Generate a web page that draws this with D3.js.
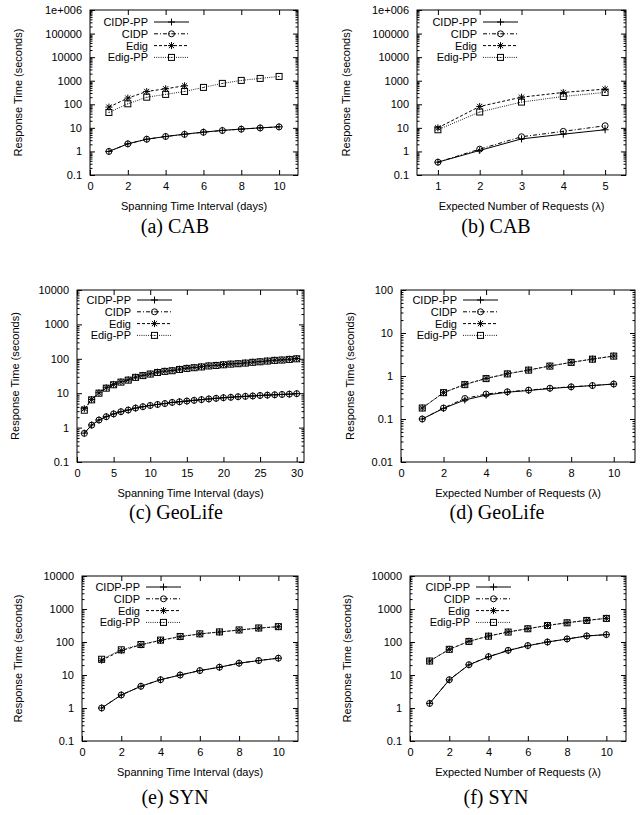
<!DOCTYPE html>
<html>
<head>
<meta charset="utf-8">
<script src="https://cdn.jsdelivr.net/npm/d3@7"></script>
<style>
  body { margin: 0; background: #fff; }
  svg { display: block; }
  .tick text, .lbl { font-family: "Liberation Sans", Arial, Helvetica, sans-serif; font-size: 11px; fill: #000; }
  .cap { font-family: "Liberation Serif", "DejaVu Serif", serif; font-size: 20px; fill: #000; }
</style>
</head>
<body>
<svg id="fig" width="644" height="815"></svg>
<script>
// ---- series and labels ----
const seriesNames = ["CIDP-PP", "CIDP", "Edig", "Edig-PP"];

// CAB, response time vs. spanning time interval (days)
const cabDaysX = [1, 2, 3, 4, 5, 6, 7, 8, 9, 10];
const cabDaysCidpPP = [1.0, 2.1, 3.3, 4.3, 5.4, 6.6, 7.8, 8.9, 10.0, 11.1];
const cabDaysCidp   = [1.0, 2.1, 3.3, 4.3, 5.3, 6.5, 7.7, 8.8, 9.9, 11.0];
const cabDaysEdigX  = [1, 2, 3, 4, 5];
const cabDaysEdig   = [76, 183, 350, 455, 610];
const cabDaysEdigPP = [45, 105, 200, 263, 350, 520, 770, 1030, 1250, 1520];

// CAB, response time vs. expected number of requests
const cabReqX = [1, 2, 3, 4, 5];
const cabReqCidpPP = [0.35, 1.1, 3.4, 5.4, 8.3];
const cabReqCidp   = [0.35, 1.25, 4.2, 7.1, 12.3];
const cabReqEdig   = [10, 81, 200, 318, 440];
const cabReqEdigPP = [8.3, 47, 124, 215, 318];

// GeoLife, response time vs. spanning time interval (days)
const geoDaysX = d3.range(1, 31);
const geoDaysCidpPP = [0.69, 1.19, 1.67, 2.08, 2.5, 2.9, 3.25, 3.7, 4.06, 4.4, 4.7, 5.0, 5.4, 5.65, 5.9,
                       6.2, 6.5, 6.8, 7.1, 7.4, 7.6, 7.9, 8.1, 8.3, 8.6, 8.8, 9.0, 9.2, 9.4, 9.7];
const geoDaysCidp   = [0.68, 1.18, 1.66, 2.07, 2.5, 2.9, 3.24, 3.7, 4.05, 4.4, 4.7, 5.0, 5.4, 5.64, 5.9,
                       6.2, 6.5, 6.8, 7.1, 7.4, 7.6, 7.9, 8.1, 8.3, 8.6, 8.8, 9.0, 9.2, 9.4, 9.7];
const geoDaysEdig   = [3.55, 6.6, 10.3, 14.4, 18, 21.5, 24.5, 29.3, 33, 36.6, 41, 43.8, 45.8, 50, 53.5,
                       56, 59, 63, 65, 68, 71, 73, 76, 80, 83, 87, 91, 93, 97, 102];
const geoDaysEdigPP = [3.2, 6.4, 10, 14, 17.6, 21, 24, 28.8, 32.5, 36, 40, 43, 45, 49, 52.5,
                       55, 58, 62, 64, 67, 70, 72, 75, 79, 82, 86, 90, 92, 96, 100];

// GeoLife, response time vs. expected number of requests
const geoReqX = [1, 2, 3, 4, 5, 6, 7, 8, 9, 10];
const geoReqCidpPP = [0.1, 0.177, 0.277, 0.36, 0.42, 0.46, 0.51, 0.555, 0.6, 0.65];
const geoReqCidp   = [0.1, 0.18, 0.30, 0.38, 0.43, 0.47, 0.52, 0.56, 0.6, 0.65];
const geoReqEdig   = [0.18, 0.41, 0.64, 0.88, 1.13, 1.38, 1.71, 2.08, 2.48, 2.92];
const geoReqEdigPP = [0.18, 0.41, 0.63, 0.87, 1.12, 1.37, 1.70, 2.07, 2.46, 2.9];

// SYN, response time vs. spanning time interval (days)
const synDaysX = [1, 2, 3, 4, 5, 6, 7, 8, 9, 10];
const synDaysCidpPP = [1.0, 2.48, 4.55, 7.2, 10, 13.6, 17.2, 22.8, 27.4, 32.3];
const synDaysCidp   = [1.0, 2.48, 4.55, 7.2, 10, 13.6, 17.2, 22.8, 27.4, 32.3];
const synDaysEdig   = [28, 55, 82, 112, 145, 175, 200, 230, 263, 290];
const synDaysEdigPP = [30, 58, 84, 114, 147, 177, 202, 232, 266, 292];

// SYN, response time vs. expected number of requests
const synReqX = [1, 2, 3, 4, 5, 6, 7, 8, 9, 10];
const synReqCidpPP = [1.38, 7.1, 20.3, 35.6, 55, 77, 100, 123, 152, 167];
const synReqCidp   = [1.38, 7.2, 20.5, 36, 56, 78, 100, 124, 153, 168];
const synReqEdig   = [26.5, 60, 105, 152, 202, 254, 318, 385, 453, 522];
const synReqEdigPP = [26.5, 60, 104, 150, 200, 252, 315, 382, 450, 518];

// tick values
const yTicksCab = [0.1, 1, 10, 100, 1000, 10000, 100000, 1000000];
const yTicksFour = [0.1, 1, 10, 100, 1000, 10000];
const yTicksGeoReq = [0.01, 0.1, 1, 10, 100];
const xTicksDays10 = [0, 2, 4, 6, 8, 10];
const xTicksDays30 = [0, 5, 10, 15, 20, 25, 30];
const xTicksReq5 = [1, 2, 3, 4, 5];
const xTicksReq10 = [0, 2, 4, 6, 8, 10];

const xTitleDays = "Spanning Time Interval (days)";
const xTitleReq = "Expected Number of Requests (\u03bb)";
const yTitle = "Response Time (seconds)";
const captions = ["(a) CAB", "(b) CAB", "(c) GeoLife", "(d) GeoLife", "(e) SYN", "(f) SYN"];

// ---- panel layout ----
const panels = [
  { box: [90, 298, 10, 175],  xd: [0, 11],    yd: [1e-1, 1e6], xt: xTicksDays10, yt: yTicksCab,
    xTitle: xTitleDays, yTitleX: 18, leg: [58, 12], cap: [175, 233],
    series: [[cabDaysX, cabDaysCidpPP], [cabDaysX, cabDaysCidp], [cabDaysEdigX, cabDaysEdig], [cabDaysX, cabDaysEdigPP]] },
  { box: [417, 626, 10, 175], xd: [0.5, 5.5], yd: [1e-1, 1e6], xt: xTicksReq5, yt: yTicksCab,
    xTitle: xTitleReq, yTitleX: 346, leg: [60, 12], cap: [496, 233],
    series: [[cabReqX, cabReqCidpPP], [cabReqX, cabReqCidp], [cabReqX, cabReqEdig], [cabReqX, cabReqEdigPP]] },
  { box: [77, 304, 290, 462], xd: [0, 31],    yd: [1e-1, 1e4], xt: xTicksDays30, yt: yTicksFour,
    xTitle: xTitleDays, yTitleX: 15, leg: [54, 10], cap: [176, 519],
    series: [[geoDaysX, geoDaysCidpPP], [geoDaysX, geoDaysCidp], [geoDaysX, geoDaysEdig], [geoDaysX, geoDaysEdigPP]] },
  { box: [401, 635, 290, 462], xd: [0, 11],   yd: [1e-2, 1e2], xt: xTicksReq10, yt: yTicksGeoReq,
    xTitle: xTitleReq, yTitleX: 350, leg: [56, 10], cap: [497, 519],
    series: [[geoReqX, geoReqCidpPP], [geoReqX, geoReqCidp], [geoReqX, geoReqEdig], [geoReqX, geoReqEdigPP]] },
  { box: [82, 298, 576, 741], xd: [0, 11],    yd: [1e-1, 1e4], xt: xTicksDays10, yt: yTicksFour,
    xTitle: xTitleDays, yTitleX: 18, leg: [58, 11], cap: [175, 804],
    series: [[synDaysX, synDaysCidpPP], [synDaysX, synDaysCidp], [synDaysX, synDaysEdig], [synDaysX, synDaysEdigPP]] },
  { box: [410, 626, 576, 741], xd: [0, 11],   yd: [1e-1, 1e4], xt: xTicksReq10, yt: yTicksFour,
    xTitle: xTitleReq, yTitleX: 347, leg: [60, 11], cap: [496, 804],
    series: [[synReqX, synReqCidpPP], [synReqX, synReqCidp], [synReqX, synReqEdig], [synReqX, synReqEdigPP]] }
];

// line style and point type for each series
const styles = [
  { dash: null,        stroke: "#000", marker: "plus" },
  { dash: "4,2,1,2",   stroke: "#000", marker: "circle" },
  { dash: "3,2",       stroke: "#000", marker: "star" },
  { dash: "1,1.2",     stroke: "#222", marker: "square" }
];

const svg = d3.select("#fig");

function fmtY(v) {
  if (v >= 1e6) return "1e+006";
  return String(+v.toPrecision(3));
}

function drawMarker(g, type, cx, cy) {
  const m = g.append("g").attr("transform", `translate(${cx},${cy})`)
    .attr("fill", "none").attr("stroke", "#000").attr("stroke-width", 1);
  if (type === "plus") {
    m.append("path").attr("d", "M-3.5,0H3.5M0,-3.5V3.5");
  } else if (type === "circle") {
    m.append("circle").attr("r", 3);
    m.append("circle").attr("r", 0.5).attr("fill", "#000").attr("stroke", "none");
  } else if (type === "star") {
    m.append("path").attr("d", "M-3.5,0H3.5M0,-3.5V3.5M-2.6,-2.6L2.6,2.6M-2.6,2.6L2.6,-2.6");
  } else if (type === "square") {
    m.append("rect").attr("x", -3).attr("y", -3).attr("width", 6).attr("height", 6);
    m.append("circle").attr("r", 0.5).attr("fill", "#000").attr("stroke", "none");
  }
}

function minorTicks(domain) {
  const out = [];
  const lo = Math.round(Math.log10(domain[0])), hi = Math.round(Math.log10(domain[1]));
  for (let e = lo; e < hi; e++) {
    for (let k = 2; k <= 9; k++) out.push(k * Math.pow(10, e));
  }
  return out;
}

function drawPanel(p, idx) {
  const [L, R, T, B] = p.box;
  const x = d3.scaleLinear().domain(p.xd).range([L, R]);
  const y = d3.scaleLog().domain(p.yd).range([B, T]);
  const g = svg.append("g");

  const major = 5, minor = 2.5;
  const styleAxis = sel => {
    sel.select(".domain").remove();
    sel.selectAll(".tick line").attr("stroke", "#000").attr("stroke-width", 1);
    sel.attr("font-family", null).attr("font-size", null);
  };

  // left axis with labels, ticks pointing inward
  g.append("g").attr("transform", `translate(${L},0)`)
    .call(d3.axisLeft(y).tickValues(p.yt).tickFormat(fmtY).tickSize(-major).tickPadding(8))
    .call(styleAxis);
  g.append("g").attr("transform", `translate(${L},0)`)
    .call(d3.axisLeft(y).tickValues(minorTicks(p.yd)).tickFormat("").tickSize(-minor))
    .call(styleAxis);
  // mirrored right axis
  g.append("g").attr("transform", `translate(${R},0)`)
    .call(d3.axisRight(y).tickValues(p.yt).tickFormat("").tickSize(-major))
    .call(styleAxis);
  g.append("g").attr("transform", `translate(${R},0)`)
    .call(d3.axisRight(y).tickValues(minorTicks(p.yd)).tickFormat("").tickSize(-minor))
    .call(styleAxis);
  // bottom axis with labels, mirrored top axis
  g.append("g").attr("transform", `translate(0,${B})`)
    .call(d3.axisBottom(x).tickValues(p.xt).tickFormat(d3.format("d")).tickSize(-major).tickPadding(7))
    .call(styleAxis);
  g.append("g").attr("transform", `translate(0,${T})`)
    .call(d3.axisTop(x).tickValues(p.xt).tickFormat("").tickSize(-major))
    .call(styleAxis);

  // frame
  g.append("rect").attr("x", L).attr("y", T).attr("width", R - L).attr("height", B - T)
    .attr("fill", "none").attr("stroke", "#000").attr("stroke-width", 1);

  // axis titles
  g.append("text").attr("class", "lbl").attr("text-anchor", "middle")
    .attr("x", (L + R) / 2).attr("y", B + 35).text(p.xTitle);
  g.append("text").attr("class", "lbl").attr("text-anchor", "middle")
    .attr("transform", `translate(${p.yTitleX + 4},${(T + B) / 2}) rotate(-90)`).text(yTitle);

  // series
  const line = d3.line().x(d => x(d[0])).y(d => y(d[1]));
  p.series.forEach((s, i) => {
    const st = styles[i];
    const pts = s[0].map((xv, j) => [xv, s[1][j]]);
    g.append("path").datum(pts).attr("d", line)
      .attr("fill", "none").attr("stroke", st.stroke).attr("stroke-width", 1)
      .attr("stroke-dasharray", st.dash);
    pts.forEach(d => drawMarker(g, st.marker, x(d[0]), y(d[1])));
  });

  // legend
  seriesNames.forEach((name, i) => {
    const st = styles[i];
    const cy = T + p.leg[1] + i * 11.8;
    g.append("text").attr("class", "lbl").attr("text-anchor", "end")
      .attr("x", L + p.leg[0]).attr("y", cy + 4).text(name);
    const x0 = L + p.leg[0] + 6, x1 = x0 + 35;
    g.append("line").attr("x1", x0).attr("x2", x1).attr("y1", cy).attr("y2", cy)
      .attr("stroke", st.stroke).attr("stroke-width", 1).attr("stroke-dasharray", st.dash);
    drawMarker(g, st.marker, (x0 + x1) / 2, cy);
  });

  // caption
  svg.append("text").attr("class", "cap").attr("text-anchor", "middle")
    .attr("x", p.cap[0]).attr("y", p.cap[1]).text(captions[idx]);
}

panels.forEach(drawPanel);
</script>
</body>
</html>
